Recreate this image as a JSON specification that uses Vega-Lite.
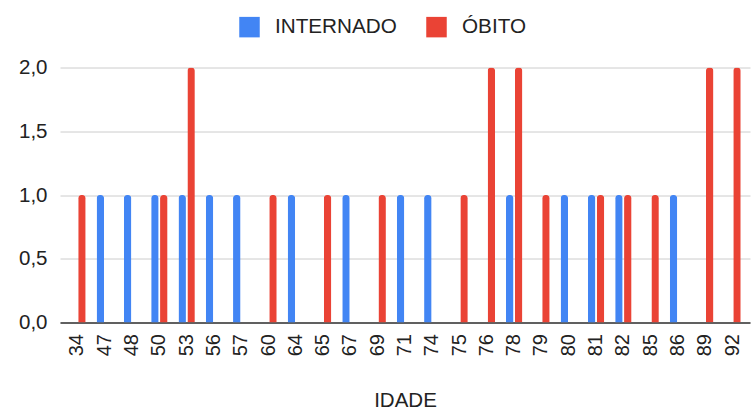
{
  "$schema": "https://vega.github.io/schema/vega-lite/v6.json",
  "width": 690,
  "height": 255,
  "autosize": {"type": "none"},
  "padding": {"left": 60, "top": 67.5, "right": 2, "bottom": 88.5},
  "background": "white",
  "config": {
    "view": {"stroke": null},
    "font": "Liberation Sans",
    "axis": {"labelFont": "Liberation Sans", "titleFont": "Liberation Sans"},
    "legend": {"labelFont": "Liberation Sans"}
  },
  "data": {
    "values": [
      {"idade": 34, "serie": "ÓBITO", "valor": 1},
      {"idade": 47, "serie": "INTERNADO", "valor": 1},
      {"idade": 48, "serie": "INTERNADO", "valor": 1},
      {"idade": 50, "serie": "INTERNADO", "valor": 1},
      {"idade": 50, "serie": "ÓBITO", "valor": 1},
      {"idade": 53, "serie": "INTERNADO", "valor": 1},
      {"idade": 53, "serie": "ÓBITO", "valor": 2},
      {"idade": 56, "serie": "INTERNADO", "valor": 1},
      {"idade": 57, "serie": "INTERNADO", "valor": 1},
      {"idade": 60, "serie": "ÓBITO", "valor": 1},
      {"idade": 64, "serie": "INTERNADO", "valor": 1},
      {"idade": 65, "serie": "ÓBITO", "valor": 1},
      {"idade": 67, "serie": "INTERNADO", "valor": 1},
      {"idade": 69, "serie": "ÓBITO", "valor": 1},
      {"idade": 71, "serie": "INTERNADO", "valor": 1},
      {"idade": 74, "serie": "INTERNADO", "valor": 1},
      {"idade": 75, "serie": "ÓBITO", "valor": 1},
      {"idade": 76, "serie": "ÓBITO", "valor": 2},
      {"idade": 78, "serie": "INTERNADO", "valor": 1},
      {"idade": 78, "serie": "ÓBITO", "valor": 2},
      {"idade": 79, "serie": "ÓBITO", "valor": 1},
      {"idade": 80, "serie": "INTERNADO", "valor": 1},
      {"idade": 81, "serie": "INTERNADO", "valor": 1},
      {"idade": 81, "serie": "ÓBITO", "valor": 1},
      {"idade": 82, "serie": "INTERNADO", "valor": 1},
      {"idade": 82, "serie": "ÓBITO", "valor": 1},
      {"idade": 85, "serie": "ÓBITO", "valor": 1},
      {"idade": 86, "serie": "INTERNADO", "valor": 1},
      {"idade": 89, "serie": "ÓBITO", "valor": 2},
      {"idade": 92, "serie": "ÓBITO", "valor": 2}
    ]
  },
  "mark": {"type": "bar", "cornerRadiusTopLeft": 3.3, "cornerRadiusTopRight": 3.3},
  "encoding": {
    "x": {
      "field": "idade",
      "type": "ordinal",
      "scale": {"paddingInner": 0.4, "paddingOuter": 0.34},
      "axis": {
        "title": "IDADE",
        "titleFontSize": 20.5,
        "titleFontWeight": "normal",
        "titleColor": "#222222",
        "titlePadding": 35,
        "labelAngle": -90,
        "labelFontSize": 20,
        "labelColor": "#222222",
        "labelPadding": 11,
        "ticks": false,
        "domainColor": "#333333",
        "domainWidth": 1.5
      }
    },
    "xOffset": {
      "field": "serie",
      "type": "nominal",
      "scale": {"domain": ["INTERNADO", "ÓBITO"], "paddingInner": 0.16}
    },
    "y": {
      "field": "valor",
      "type": "quantitative",
      "scale": {"domain": [0, 2], "nice": false},
      "axis": {
        "title": null,
        "values": [0, 0.5, 1, 1.5, 2],
        "labelExpr": "replace(format(datum.value, '.1f'), '.', ',')",
        "labelFontSize": 20.5,
        "labelColor": "#222222",
        "labelPadding": 13,
        "ticks": false,
        "domain": false,
        "gridColor": "#cccccc",
        "gridWidth": 1
      }
    },
    "color": {
      "field": "serie",
      "type": "nominal",
      "scale": {"domain": ["INTERNADO", "ÓBITO"], "range": ["#4285F4", "#EA4335"]},
      "legend": {
        "title": null,
        "orient": "none",
        "direction": "horizontal",
        "legendX": 179,
        "legendY": -51,
        "symbolType": "square",
        "symbolSize": 420,
        "symbolStrokeWidth": 0,
        "symbolOpacity": 1,
        "labelFontSize": 20.7,
        "labelColor": "#222222",
        "labelOffset": 15,
        "columnPadding": 29
      }
    }
  }
}
